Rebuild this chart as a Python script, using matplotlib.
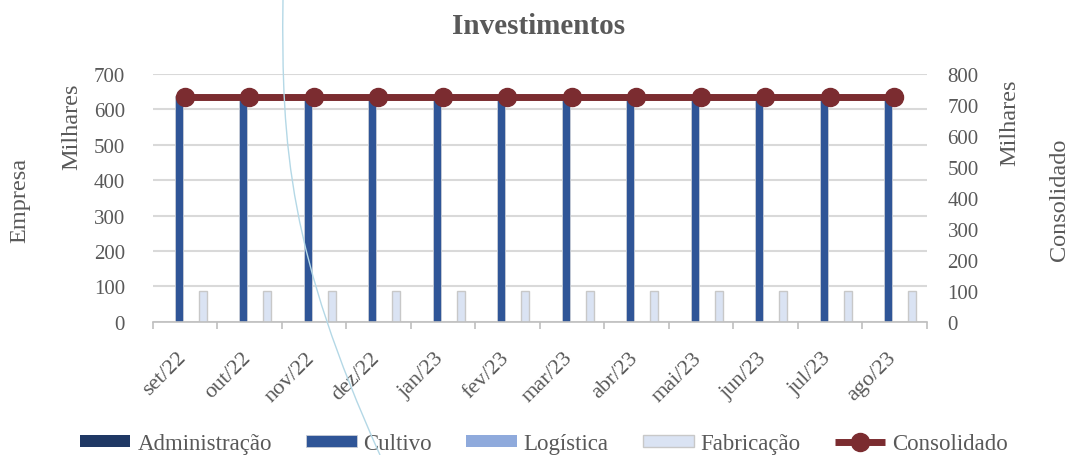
import matplotlib
matplotlib.use('Agg')
import matplotlib.pyplot as plt
import matplotlib.transforms as mtransforms
from matplotlib.path import Path
from matplotlib.patches import PathPatch
import numpy as np

# ── Data (milhares) ────────────────────────────────────────────────────────────
meses = ['set/22', 'out/22', 'nov/22', 'dez/22', 'jan/23', 'fev/23',
         'mar/23', 'abr/23', 'mai/23', 'jun/23', 'jul/23', 'ago/23']
administracao = [0] * 12
cultivo = [637, 637, 637, 637, 637, 637, 637, 637, 637, 637, 637, 637]
logistica = [0] * 12
fabricacao = [88, 88, 88, 88, 88, 88, 88, 88, 88, 88, 88, 88]
consolidado = [725, 725, 725, 725, 725, 725, 725, 725, 725, 725, 725, 725]

# ── Style ──────────────────────────────────────────────────────────────────────
TEXT = '#595959'
GRID = '#D9D9D9'
C_ADM = '#1F3864'
C_CUL = '#2F5597'
C_LOG = '#8FAADC'
C_FAB = '#DAE3F3'
C_CON = '#7B2C30'
FAMILY = ['Liberation Serif', 'DejaVu Serif']
FS = 15

plt.rcParams['font.family'] = FAMILY

W, H = 1070, 456
fig = plt.figure(figsize=(W / 100, H / 100), dpi=100)
ax = fig.add_axes([152.7 / W, 1 - 322.7 / H, 774 / W, (322.7 - 75) / H])
ax2 = ax.twinx()

x = np.arange(len(meses))
d = 0.186
bw = 0.125
ax.bar(x - 1.5 * d, administracao, bw, color=C_ADM, label='Administração', zorder=2)
ax.bar(x - 0.5 * d, cultivo, bw, color=C_CUL, edgecolor='#C9CED6', linewidth=0.6,
       label='Cultivo', zorder=2)
ax.bar(x + 0.5 * d, logistica, bw, color=C_LOG, label='Logística', zorder=2)
ax.bar(x + 1.5 * d, fabricacao, bw, color=C_FAB, edgecolor='#C8C8C8', linewidth=1.0,
       label='Fabricação', zorder=2)
ax2.plot(x, consolidado, color=C_CON, lw=5, marker='o', ms=13, label='Consolidado',
         solid_capstyle='butt')

ax.set_xlim(-0.5, len(meses) - 0.5)
ax.set_ylim(0, 700)
ax.set_yticks(range(0, 701, 100))
ax2.set_ylim(0, 800)
ax2.set_yticks(range(0, 801, 100))

ax.yaxis.grid(True, color=GRID, lw=1.5, zorder=0)
ax.set_axisbelow(True)
for a in (ax, ax2):
    for s in a.spines.values():
        s.set_visible(False)
ax.spines['bottom'].set_visible(True)
ax.spines['bottom'].set_color('#BFBFBF')
ax.spines['bottom'].set_linewidth(1.2)

ax.set_xticks(x)
ax.set_xticklabels(meses, rotation=45, ha='right')
ax.set_xticks(np.arange(-0.5, len(meses)), minor=True)
ax.tick_params(axis='x', which='major', length=0, pad=19, labelsize=16, labelcolor=TEXT)
ax.tick_params(axis='x', which='minor', length=5, width=1.2, color='#BFBFBF')
ax.tick_params(axis='y', length=0, pad=20, labelsize=FS, labelcolor=TEXT)
ax2.tick_params(axis='y', length=0, pad=15, labelsize=FS, labelcolor=TEXT)

shift = mtransforms.ScaledTranslation(5 / 100, 0, fig.dpi_scale_trans)
for lbl in ax.get_xticklabels():
    lbl.set_transform(lbl.get_transform() + shift)

# ── Titles ─────────────────────────────────────────────────────────────────────
fig.text(539 / W, 1 - 26 / H, 'Investimentos', fontsize=21, fontweight='bold',
         color=TEXT, ha='center', va='center')
fig.text(20 / W, 1 - 200 / H, 'Empresa', fontsize=17.5, color=TEXT, rotation=90,
         ha='center', va='center')
fig.text(72 / W, 1 - 127 / H, 'Milhares', fontsize=17.5, color=TEXT, rotation=90,
         ha='center', va='center')
fig.text(1010 / W, 1 - 123 / H, 'Milhares', fontsize=17.5, color=TEXT, rotation=90,
         ha='center', va='center')
fig.text(1059 / W, 1 - 200 / H, 'Consolidado', fontsize=17.5, color=TEXT, rotation=90,
         ha='center', va='center')

# ── Legend ─────────────────────────────────────────────────────────────────────
h1, l1 = ax.get_legend_handles_labels()
h2, l2 = ax2.get_legend_handles_labels()
leg = fig.legend(h1 + h2, l1 + l2, loc='center', ncol=5,
                 bbox_to_anchor=(544 / W, 1 - 444.5 / H), frameon=False,
                 prop={'family': FAMILY, 'size': 16.5}, labelcolor=TEXT,
                 handlelength=2.2, handleheight=0.4,
                 handletextpad=0.3, columnspacing=1.5, borderpad=0)

# stray light-blue arc present in the source image
verts = [(283, 0), (281, 150), (290, 256), (380, 456)]
verts = [(vx / W, 1 - vy / H) for vx, vy in verts]
arc = PathPatch(Path(verts, [Path.MOVETO, Path.CURVE4, Path.CURVE4, Path.CURVE4]),
                facecolor='none', edgecolor='#B4D8E6', lw=1.0,
                transform=fig.transFigure, zorder=10)
fig.add_artist(arc)

plt.savefig('out.png', dpi=100, facecolor='white')
plt.close()
